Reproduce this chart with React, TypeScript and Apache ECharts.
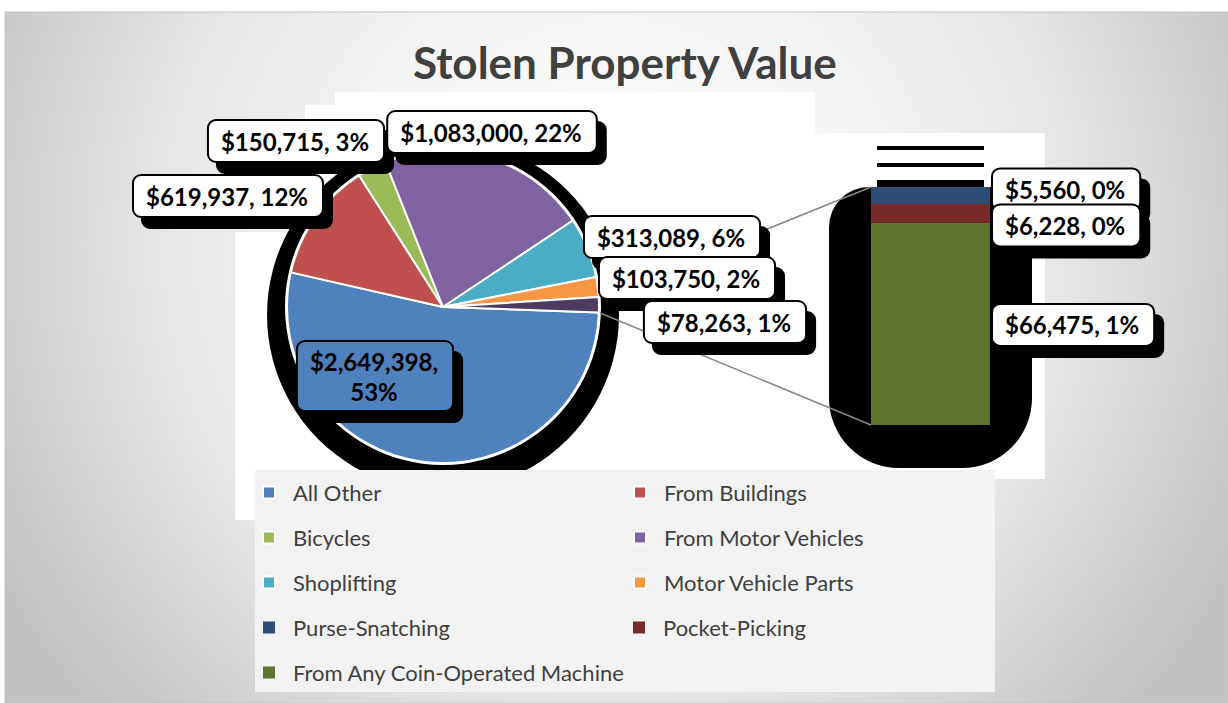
import React, { useEffect, useRef } from 'react';
import * as echarts from 'echarts';

// ---- data ----
const pieCategories = ['All Other', 'From Buildings', 'Bicycles', 'From Motor Vehicles', 'Shoplifting', 'Motor Vehicle Parts'];
const pieValues = [2649398, 619937, 150715, 1083000, 313089, 103750];
const piePercents = [53, 12, 3, 22, 6, 2];
const otherName = 'Other';
const otherPercent = 1;
const barCategories = ['Purse-Snatching', 'Pocket-Picking', 'From Any Coin-Operated Machine'];
const barValues = [5560, 6228, 66475];
const barPercents = [0, 0, 1];
const legendOrder = [
  'All Other', 'From Buildings', 'Bicycles', 'From Motor Vehicles', 'Shoplifting',
  'Motor Vehicle Parts', 'Purse-Snatching', 'Pocket-Picking', 'From Any Coin-Operated Machine',
];

// ---- styles ----
const pieColors = ['#4f81bd', '#c0504d', '#9bbb59', '#8064a2', '#4bacc6', '#f79646'];
const otherColor = '#4d3b62';
const barColors = ['#2c4d75', '#772c2a', '#5f7530'];

const W = 1228;
const H = 703;
const PIE_CX = 443;
const PIE_CY = 307;
const PIE_R = 156;
const START_ANGLE = -2;
const BAR_LEFT = 871;
const BAR_TOP = 187;
const BAR_W = 119;
const BAR_H = 238;
const pieLabelPos = [[375, 376], [228, 196], [296, 141], [492, 132], [672, 237], [687, 278], [725, 322]];
const barLabelOffsets = [[0, -6], [0, 12], [0, 1]];
const barLabelZ = [2, 3, 2];

const FONT = 'Lato, "Open Sans", sans-serif';
const money = (v: number) => '$' + v.toLocaleString('en-US');

const boxStyle = {
  color: '#000',
  fontFamily: FONT,
  fontWeight: 'bold' as const,
  fontSize: 24,
  lineHeight: 30,
  backgroundColor: '#fff',
  borderColor: '#000',
  borderWidth: 2,
  borderRadius: 7,
  padding: [5, 14, 5, 12],
  shadowColor: '#000',
  shadowBlur: 0,
  shadowOffsetX: 9,
  shadowOffsetY: 11,
};

export default function App() {
  const ref = useRef<HTMLDivElement>(null);

  useEffect(() => {
    document.body.style.margin = '0';
    const chart = echarts.init(ref.current as HTMLDivElement, null, { renderer: 'svg' });

    const otherValue = barValues.reduce((a, b) => a + b, 0);
    const total = pieValues.reduce((a, b) => a + b, 0) + otherValue;
    const otherSpan = (otherValue / total) * 360;
    const aLow = (START_ANGLE * Math.PI) / 180;
    const aHigh = ((START_ANGLE + otherSpan) * Math.PI) / 180;
    const pLow = [PIE_CX + PIE_R * Math.cos(aLow), PIE_CY - PIE_R * Math.sin(aLow)];
    const pHigh = [PIE_CX + PIE_R * Math.cos(aHigh), PIE_CY - PIE_R * Math.sin(aHigh)];

    const pieData: any[] = pieCategories.map((name, i) => ({
      name,
      value: pieValues[i],
      itemStyle: { color: pieColors[i] },
      label: i === 0 ? { backgroundColor: pieColors[0], padding: [4, 14, 4, 12] } : undefined,
    }));
    pieData.push({ name: otherName, value: otherValue, itemStyle: { color: otherColor } });
    const allPercents = [...piePercents, otherPercent];

    // stacked order: bottom first
    const stackOrder = [2, 1, 0];
    const barSeries = stackOrder.map((i) => ({
      type: 'bar',
      name: barCategories[i],
      stack: 'other',
      z: barLabelZ[i],
      barWidth: '100%',
      data: [barValues[i]],
      itemStyle: { color: barColors[i] },
      label: {
        show: true,
        position: 'right',
        distance: 3,
        offset: barLabelOffsets[i],
        formatter: () => `${money(barValues[i])}, ${barPercents[i]}%`,
        ...boxStyle,
      },
    }));

    const legendData = legendOrder.map((name) => ({ name, icon: 'rect' }));

    const option: any = {
      animation: false,
      color: [...pieColors, ...barColors],
      title: {
        text: 'Stolen Property Value',
        left: 408,
        top: 35,
        textStyle: { fontFamily: FONT, fontWeight: 'bold', fontSize: 44, color: '#404040' },
      },
      legend: {
        data: legendData,
        left: 255,
        top: 470,
        width: 730,
        orient: 'horizontal',
        padding: [10, 11, 7, 7],
        backgroundColor: '#f2f2f2',
        itemWidth: 12,
        itemHeight: 12,
        itemGap: 20,
        selectedMode: false,
        textStyle: {
          fontFamily: FONT,
          fontSize: 22,
          color: '#404040',
          width: 320,
          lineHeight: 25,
          padding: [0, 0, 0, 13],
        },
      },
      grid: { left: BAR_LEFT, top: BAR_TOP, width: BAR_W, height: BAR_H, containLabel: false },
      xAxis: { type: 'category', data: [otherName], show: false },
      yAxis: { type: 'value', min: 0, max: otherValue, show: false },
      graphic: [
        {
          type: 'rect',
          z: -10,
          shape: { x: 5, y: 12, width: W - 5, height: H - 12 },
          style: {
            fill: {
              type: 'radial', x: 614, y: 240, r: 700, global: true,
              colorStops: [
                { offset: 0, color: '#ffffff' },
                { offset: 0.35, color: '#f5f5f5' },
                { offset: 0.65, color: '#e6e6e6' },
                { offset: 1, color: '#c2c2c2' },
              ],
            },
            stroke: '#c4c4c4',
            lineWidth: 1,
          },
        },
        {
          type: 'polygon',
          z: -9,
          shape: {
            points: [
              [335, 92], [815, 92], [815, 133], [1045, 133], [1045, 479], [995, 479], [995, 470],
              [255, 470], [255, 520], [235, 520], [235, 232], [305, 232], [305, 105], [335, 105],
            ],
          },
          style: { fill: '#ffffff' },
        },
        {
          type: 'circle',
          z: -8,
          shape: { cx: PIE_CX, cy: PIE_CY + 8, r: PIE_R + 20 },
          style: { fill: '#000000' },
        },
        {
          type: 'circle',
          z: -7,
          shape: { cx: PIE_CX, cy: PIE_CY, r: PIE_R + 2 },
          style: { fill: '#ffffff' },
        },
        {
          type: 'rect',
          z: -8,
          shape: { x: BAR_LEFT - 42, y: BAR_TOP, width: BAR_W + 84, height: 281, r: [40, 12, 70, 70] },
          style: { fill: '#000000' },
        },
        { type: 'rect', z: -6, shape: { x: BAR_LEFT + 6, y: BAR_TOP - 41, width: 107, height: 4 }, style: { fill: '#000' } },
        { type: 'rect', z: -6, shape: { x: BAR_LEFT + 6, y: BAR_TOP - 24, width: 107, height: 4 }, style: { fill: '#000' } },
        { type: 'rect', z: -6, shape: { x: BAR_LEFT + 6, y: BAR_TOP - 7, width: 107, height: 7 }, style: { fill: '#000' } },
        {
          type: 'line',
          z: -5,
          shape: { x1: pHigh[0], y1: pHigh[1], x2: BAR_LEFT, y2: BAR_TOP },
          style: { stroke: '#868686', lineWidth: 1.5 },
        },
        {
          type: 'line',
          z: -5,
          shape: { x1: pLow[0], y1: pLow[1], x2: BAR_LEFT, y2: BAR_TOP + BAR_H },
          style: { stroke: '#868686', lineWidth: 1.5 },
        },
      ],
      series: [
        {
          type: 'pie',
          center: [PIE_CX, PIE_CY],
          radius: PIE_R,
          startAngle: START_ANGLE,
          clockwise: true,
          avoidLabelOverlap: false,
          itemStyle: { borderColor: '#ffffff', borderWidth: 2 },
          labelLine: { show: false },
          label: {
            show: true,
            formatter: (p: any) =>
              p.dataIndex === 0
                ? `${money(p.value)},\n${allPercents[p.dataIndex]}%`
                : `${money(p.value)}, ${allPercents[p.dataIndex]}%`,
            ...boxStyle,
          },
          labelLayout: (p: any) => {
            const pos = pieLabelPos[p.dataIndex];
            return { x: pos[0], y: pos[1], align: 'center', verticalAlign: 'middle' };
          },
          data: pieData,
        },
        ...barSeries,
      ],
    };

    chart.setOption(option);
    return () => chart.dispose();
  }, []);

  return <div ref={ref} style={{ position: 'absolute', left: 0, top: 0, width: W, height: H }} />;
}
